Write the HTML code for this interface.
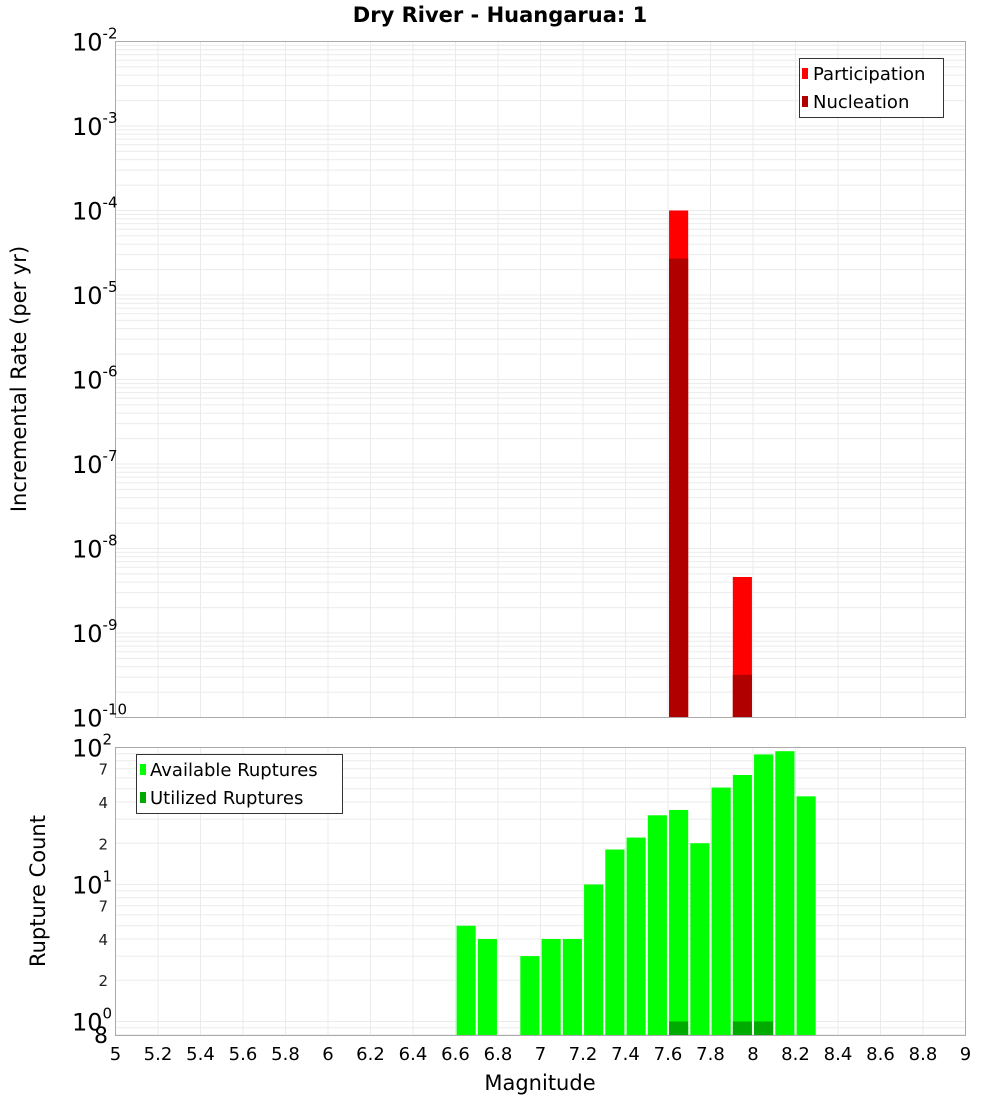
<!DOCTYPE html>
<html><head><meta charset="utf-8"><title>Dry River - Huangarua: 1</title>
<style>
html,body{margin:0;padding:0;background:#fff;}
svg{display:block;font-family:"DejaVu Sans","Liberation Sans",sans-serif;}
</style></head>
<body>
<svg id="chart" width="1000" height="1100" xmlns="http://www.w3.org/2000/svg"></svg>
<script>
// ---- data ----
const xTicks = [5,5.2,5.4,5.6,5.8,6,6.2,6.4,6.6,6.8,7,7.2,7.4,7.6,7.8,8,8.2,8.4,8.6,8.8,9];
const rateMags = [7.65, 7.95];
const participationRates = [1.0e-4, 4.6e-9];
const nucleationRates = [2.7e-5, 3.2e-10];
const countMags = [6.65,6.75,6.95,7.05,7.15,7.25,7.35,7.45,7.55,7.65,7.75,7.85,7.95,8.05,8.15,8.25];
const availableCounts = [5,4,3,4,4,10,18,22,32,35,20,51,63,89,94,44];
const utilizedMags = [7.65,7.95,8.05];
const utilizedCounts = [1,1,1];
const topExps = [-10,-9,-8,-7,-6,-5,-4,-3,-2];
const botExps = [0,1,2];
const botMinor = [2,4,7];

const svg = document.getElementById('chart');
const NS = 'http://www.w3.org/2000/svg';
function mk(tag, attrs, parent, text){
  const e = document.createElementNS(NS, tag);
  for (const k in attrs) e.setAttribute(k, attrs[k]);
  if (text !== undefined) e.textContent = text;
  (parent||svg).appendChild(e);
  return e;
}
const L = 115.5, R = 965.5;
const xS = m => L + (m - 5) / 4 * (R - L);
const T1 = 41.5, B1 = 717.5;
const y1 = v => B1 - (Math.log10(v) + 10) / 8 * (B1 - T1);
const T2 = 747.5, B2 = 1035.5, bMin = Math.log10(0.79), bMax = 2;
const y2 = v => B2 - (Math.log10(v) - bMin) / (bMax - bMin) * (B2 - T2);
const BW = 0.09;

// title
const title = mk('text',{x:500,y:22,'text-anchor':'middle','font-size':21,'font-weight':'bold',fill:'#000'},svg,'Dry River - Huangarua: 1');



function grid(g, yFn, top, bot, lo, hi){
  for (const t of xTicks){ mk('line',{x1:xS(t),x2:xS(t),y1:top,y2:bot,stroke:'#ebebeb','stroke-width':1},g); }
  for (let e = lo; e < hi; e++){
    for (let k = 1; k <= 9; k++){
      const v = k*Math.pow(10,e), y = yFn(v);
      if (y < top-0.5 || y > bot+0.5) continue;
      mk('line',{x1:L,x2:R,y1:y,y2:y,stroke:'#ebebeb','stroke-width':1},g);
    }
  }
}

// ---- top panel ----
const gTop = mk('g',{});


grid(gTop, y1, T1, B1, -10, -2);
participationRates.forEach((v,i)=>{
  const b = mk('rect',{x:xS(rateMags[i]-BW/2),y:y1(v),width:xS(rateMags[i]+BW/2)-xS(rateMags[i]-BW/2),height:B1-y1(v),fill:'#ff0000'},gTop);
  
  
});
nucleationRates.forEach((v,i)=>{
  const b = mk('rect',{x:xS(rateMags[i]-BW/2),y:y1(v),width:xS(rateMags[i]+BW/2)-xS(rateMags[i]-BW/2),height:B1-y1(v),fill:'#b00000'},gTop);
  
  
});
mk('rect',{x:L,y:T1,width:R-L,height:B1-T1,fill:'none',stroke:'#aaa','stroke-width':1},gTop);
topExps.forEach(e=>{
  const y = y1(Math.pow(10,e));
  const t = mk('text',{x:72,y:y+9,'font-size':24,fill:'#000'},gTop);
  
  
  mk('tspan',{},t,'10');
  mk('tspan',{dy:-12,'font-size':15},t,String(e));
});
const yt1 = mk('text',{x:0,y:0,transform:'translate(26,379) rotate(-90)','text-anchor':'middle','font-size':21,fill:'#000'},svg,'Incremental Rate (per yr)');


// legend top
const lg1 = mk('g',{});


mk('rect',{x:799.5,y:58.5,width:144,height:59,fill:'#fff',stroke:'#333','stroke-width':1},lg1);
mk('rect',{x:802,y:68,width:6,height:11,fill:'#ff0000'},lg1);
mk('text',{x:813,y:80,'font-size':18,fill:'#000'},lg1,'Participation');
mk('rect',{x:802,y:96,width:6,height:11,fill:'#b00000'},lg1);
mk('text',{x:813,y:108,'font-size':18,fill:'#000'},lg1,'Nucleation');

// ---- bottom panel ----
const gBot = mk('g',{});


grid(gBot, y2, T2, B2, -1, 2);
availableCounts.forEach((v,i)=>{
  const b = mk('rect',{x:xS(countMags[i]-BW/2),y:y2(v),width:xS(countMags[i]+BW/2)-xS(countMags[i]-BW/2),height:B2-y2(v),fill:'#00ff00'},gBot);
  
  
});
utilizedCounts.forEach((v,i)=>{
  const b = mk('rect',{x:xS(utilizedMags[i]-BW/2),y:y2(v),width:xS(utilizedMags[i]+BW/2)-xS(utilizedMags[i]-BW/2),height:B2-y2(v),fill:'#00aa00'},gBot);
  
  
});
mk('rect',{x:L,y:T2,width:R-L,height:B2-T2,fill:'none',stroke:'#aaa','stroke-width':1},gBot);
botExps.forEach(e=>{
  const y = y2(Math.pow(10,e));
  const t = mk('text',{x:72,y:y+9,'font-size':24,fill:'#000'},gBot);
  
  
  mk('tspan',{},t,'10');
  mk('tspan',{dy:-12,'font-size':15},t,String(e));
  if (e < 2) botMinor.forEach(k=>{
    const mt = mk('text',{x:108,y:y2(k*Math.pow(10,e))+6,'text-anchor':'end','font-size':15,fill:'#222'},gBot,String(k));
    
    
  });
});
const eight = mk('text',{x:108,y:y2(0.8)+8,'text-anchor':'end','font-size':22,fill:'#000'},gBot,'8');


const yt2 = mk('text',{x:0,y:0,transform:'translate(45,891) rotate(-90)','text-anchor':'middle','font-size':21,fill:'#000'},svg,'Rupture Count');


// legend bottom
const lg2 = mk('g',{});


mk('rect',{x:136.5,y:754.5,width:206,height:59,fill:'#fff',stroke:'#333','stroke-width':1},lg2);
mk('rect',{x:140,y:764,width:6,height:11,fill:'#00ff00'},lg2);
mk('text',{x:150,y:776,'font-size':18,fill:'#000'},lg2,'Available Ruptures');
mk('rect',{x:140,y:792,width:6,height:11,fill:'#00aa00'},lg2);
mk('text',{x:150,y:804,'font-size':18,fill:'#000'},lg2,'Utilized Ruptures');

// x ticks
xTicks.forEach(t=>{
  const tx = mk('text',{x:xS(t),y:1060,'text-anchor':'middle','font-size':18,fill:'#000'},svg,String(t));
  
  
});
const xt = mk('text',{x:540,y:1090,'text-anchor':'middle','font-size':21,fill:'#000'},svg,'Magnitude');


</script>
</body></html>
